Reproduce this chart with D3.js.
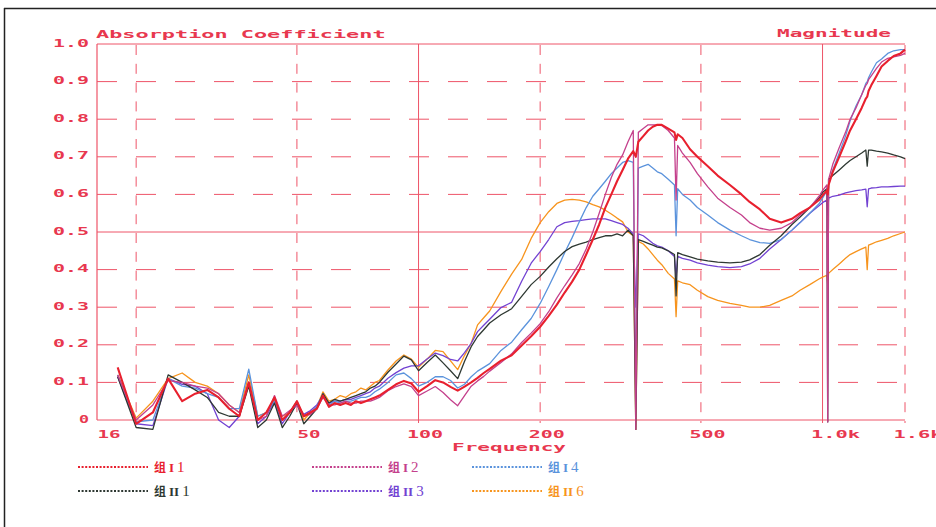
<!DOCTYPE html>
<html><head><meta charset="utf-8">
<script src="https://cdn.jsdelivr.net/npm/d3@7"></script>
<style>body{margin:0;background:#fff;overflow:hidden}</style>
</head><body><svg id="c" width="936" height="527"></svg>
<script>
// ---------------- data ----------------
const freqs = [18,20,22,24,26,28,30,32,34,36,38,40,42,44,46,48,50,52,54,56,58,60,62,64,66,68,70,72,74,76,78,80,
84,88,92,96,100,105,110,115,120,125,130,135,140,145,150,160,170,180,190,200,
210,220,230,240,250,260,270,280,290,300,310,320,330,340,345,350,360,370,380,390,400,
415,430,434,438,450,470,490,520,550,590,630,660,700,740,790,840,880,930,980,1000,
1025,1030,1035,1060,1100,1140,1170,1210,1250,1280,1290,1300,1320,1360,1400,1450,1500,1560,1600];

const serI1 = [.14,-.01,.02,.11,.05,.07,.08,.06,.03,.01,.10,.00,.02,.06,.00,.02,.05,.01,.02,.03,.065,.035,.045,.04,.045,.04,.05,.045,.05,.055,.06,.065,
.08,.095,.104,.097,.075,.09,.106,.10,.088,.078,.089,.10,.112,.125,.136,.158,.172,.198,.223,.248,
.277,.307,.339,.368,.40,.44,.48,.52,.565,.60,.635,.665,.695,.715,.70,.74,.755,.77,.78,.785,.785,
.775,.765,.745,.76,.75,.72,.70,.675,.65,.625,.60,.58,.56,.535,.525,.535,.55,.565,.585,.597,
.61,.60,.625,.66,.70,.74,.77,.80,.83,.855,.86,.875,.89,.915,.94,.955,.968,.975,.985];

const serI2 = [.12,.00,.04,.105,.10,.09,.085,.07,.04,.02,.10,.00,.01,.065,.01,.025,.04,.01,.015,.03,.06,.04,.04,.045,.05,.045,.045,.05,.05,.05,.055,.06,
.078,.089,.096,.089,.065,.077,.089,.073,.054,.038,.065,.09,.104,.116,.13,.153,.176,.206,.231,.256,
.288,.325,.357,.386,.416,.455,.50,.55,.60,.645,.68,.705,.74,.77,-.025,.765,.775,.785,.785,.785,.783,
.77,.75,.585,.73,.71,.685,.655,.62,.59,.565,.545,.525,.51,.505,.51,.525,.545,.565,.595,.61,
.625,-.005,.64,.68,.725,.765,.80,.83,.865,.89,.895,.905,.915,.935,.952,.962,.966,.97,.975];

const serI4 = [.12,-.005,.00,.11,.09,.085,.07,.06,.03,.03,.135,.01,.02,.05,.00,.02,.05,.01,.02,.035,.07,.04,.05,.045,.05,.05,.055,.06,.06,.065,.075,.082,
.10,.12,.125,.11,.09,.10,.115,.115,.105,.085,.095,.115,.13,.14,.15,.185,.207,.24,.27,.31,
.355,.40,.445,.485,.527,.565,.595,.615,.635,.655,.67,.685,.69,.685,.05,.67,.675,.68,.67,.66,.655,
.64,.625,.49,.615,.60,.585,.565,.545,.525,.505,.49,.48,.472,.47,.48,.505,.525,.55,.575,.59,
.61,.58,.625,.665,.71,.755,.795,.835,.865,.895,.90,.91,.925,.95,.96,.975,.982,.985,.985];

const serII1 = [.115,-.02,-.025,.12,.10,.08,.06,.02,.01,.01,.09,-.02,.00,.045,-.02,.01,.045,-.01,.01,.03,.07,.045,.055,.05,.055,.06,.065,.07,.075,.085,.09,.10,
.127,.149,.17,.16,.131,.153,.173,.152,.131,.11,.156,.195,.222,.24,.258,.28,.296,.329,.36,.382,
.407,.429,.448,.461,.468,.473,.48,.485,.49,.49,.495,.49,.505,.49,-.025,.48,.475,.47,.465,.46,.458,
.45,.44,.33,.445,.44,.434,.428,.423,.42,.418,.42,.426,.44,.465,.49,.52,.54,.565,.59,.605,
.615,-.005,.64,.65,.665,.68,.69,.70,.71,.718,.675,.718,.718,.715,.713,.71,.705,.70,.695];

const serII3 = [.115,-.01,-.015,.11,.095,.09,.07,.00,-.02,.01,.10,-.01,.01,.05,-.01,.02,.04,.015,.025,.04,.065,.045,.05,.05,.055,.055,.06,.065,.07,.075,.085,.09,
.111,.126,.138,.144,.144,.162,.178,.171,.161,.157,.179,.204,.235,.252,.268,.299,.313,.369,.417,.448,
.48,.514,.525,.528,.53,.533,.535,.535,.535,.53,.525,.52,.51,.495,.30,.495,.49,.48,.47,.463,.46,
.45,.435,.38,.435,.43,.425,.418,.412,.408,.405,.408,.415,.43,.455,.48,.505,.525,.55,.57,.578,
.585,.545,.59,.595,.598,.604,.607,.61,.612,.614,.567,.615,.617,.618,.62,.62,.621,.622,.622];

const serII6 = [.12,.005,.05,.11,.125,.10,.09,.07,.04,.02,.12,.01,.02,.055,.01,.02,.05,.00,.02,.035,.075,.05,.055,.065,.06,.07,.075,.085,.08,.09,.10,.105,
.133,.157,.173,.162,.14,.162,.185,.182,.157,.134,.172,.204,.253,.272,.29,.342,.388,.427,.483,.525,
.554,.576,.585,.587,.585,.58,.573,.567,.558,.548,.537,.527,.50,.49,-.025,.475,.468,.455,.44,.425,.413,
.39,.375,.275,.37,.365,.36,.345,.328,.318,.31,.305,.30,.30,.305,.318,.33,.345,.36,.375,.38,
.385,.36,.39,.40,.415,.43,.44,.448,.455,.46,.40,.465,.468,.474,.478,.483,.49,.496,.50];

const seriesNames = ["I1","I2","I4","II1","II3","II6"];
const seriesValues = [serI1, serI2, serI4, serII1, serII3, serII6];
const seriesColors = ["#e8202e","#c4408c","#5b93dc","#2e3832","#7242d2","#f7941d"];

const yTicks = [0,0.1,0.2,0.3,0.4,0.5,0.6,0.7,0.8,0.9,1.0];
const yTickLabels = ["0","0.1","0.2","0.3","0.4","0.5","0.6","0.7","0.8","0.9","1.0"];
const xGrid = [20,50,100,200,500,1000,1600];
const xTicks = [16,50,100,200,500,1000,1600];
const xTickLabels = ["16","50","100","200","500","1.0k","1.6k"];
const legendPrefix = "组";
const legendRoman = ["I","I","I","II","II","II"];
const legendDigit = ["1","2","4","1","3","6"];
const titleLeft = "Absorption Coefficient";
const titleRight = "Magnitude";
const xTitle = "Frequency";

// ---------------- drawing ----------------
const svg = d3.select("#c");
const RED = "#e8384f";
const GRID = "#ee5468";
const x = d3.scaleLog().domain([16,1600]).range([97,905]);
const y = d3.scaleLinear().domain([0,1]).range([420,44]);

// outer black frame (left & top)
svg.append("line").attr("x1",4.5).attr("x2",4.5).attr("y1",8).attr("y2",527).attr("stroke","#222").attr("stroke-width",1.5);
svg.append("line").attr("x1",4).attr("x2",936).attr("y1",8.5).attr("y2",8.5).attr("stroke","#222").attr("stroke-width",1.5);

const grid = svg.append("g");
grid.selectAll("line.h").data(yTicks).join("line")
  .attr("x1",x(16)).attr("x2",x(1600))
  .attr("y1",d=>y(d)).attr("y2",d=>y(d))
  .attr("stroke",GRID).attr("stroke-width",1)
  .attr("stroke-dasharray",d=>(d===0||d===0.5||d===1)?null:"20,19");
grid.selectAll("line.v").data(xGrid).join("line")
  .attr("x1",d=>x(d)).attr("x2",d=>x(d))
  .attr("y1",y(0)+3).attr("y2",y(1))
  .attr("stroke",GRID).attr("stroke-width",1)
  .attr("stroke-dasharray",d=>(d===100||d===1000)?null:"10,8.8")
  .attr("stroke-dashoffset",8);
grid.append("line").attr("x1",x(16)).attr("x2",x(16)).attr("y1",y(0)).attr("y2",y(1)).attr("stroke",GRID).attr("stroke-width",1.2);

function ptext(g, str, px, py, anchor, pitch){
  const w = str.length*(pitch||13) - 3;
  return g.append("text").attr("x",px).attr("y",py)
    .attr("text-anchor",anchor)
    .attr("font-family","DejaVu Sans Mono, monospace").attr("font-weight","bold")
    .attr("font-size",11).attr("fill",RED)
    .attr("textLength",w).attr("lengthAdjust","spacingAndGlyphs").text(str);
}

const yAx = svg.append("g").attr("transform","translate(89,2)")
  .call(d3.axisLeft(y).tickValues(yTicks).tickSize(0).tickPadding(0).tickFormat((d,i)=>yTickLabels[i]));
yAx.select(".domain").remove();
yAx.selectAll("text").each(function(d,i){
  const s = yTickLabels[i];
  d3.select(this).attr("text-anchor","end").attr("dy",0).attr("x",0)
    .attr("font-family","DejaVu Sans Mono, monospace").attr("font-weight","bold")
    .attr("font-size",11).attr("fill",RED)
    .attr("textLength",s.length*13-3).attr("lengthAdjust","spacingAndGlyphs");
});

const xAx = svg.append("g").attr("transform","translate(0,438)")
  .call(d3.axisBottom(x).tickValues(xTicks).tickSize(0).tickPadding(0).tickFormat((d,i)=>xTickLabels[i]));
xAx.select(".domain").remove();
xAx.selectAll("text").each(function(d,i){
  const s = xTickLabels[i];
  d3.select(this).attr("text-anchor","start").attr("dy",0).attr("y",0)
    .attr("x", s.length<=2 ? 0 : -12)
    .attr("font-family","DejaVu Sans Mono, monospace").attr("font-weight","bold")
    .attr("font-size",11).attr("fill",RED)
    .attr("textLength",s.length*13-3).attr("lengthAdjust","spacingAndGlyphs");
});

ptext(svg, titleLeft, 96, 38, "start", 13.3);
ptext(svg, titleRight, 891, 37, "end", 13);
ptext(svg, xTitle, 452, 451, "start", 13);

const line = d3.line().x(d=>x(d[0])).y(d=>y(d[1]));
const drawOrder = [5,4,2,3,1,0];
const curves = svg.append("g");
drawOrder.forEach(k=>{
  const pts = freqs.map((f,i)=>[f, seriesValues[k][i]]);
  curves.append("path").datum(pts)
    .attr("d",line).attr("fill","none")
    .attr("stroke",seriesColors[k])
    .attr("stroke-width",k===0?2.1:1.3)
    .attr("stroke-linejoin","round");
});

const legCols = [78,312,472];
const legRows = [467,491];
const legOrder = [[0,1,2],[3,4,5]];
const leg = svg.append("g");
legOrder.forEach((row,ri)=>{
  row.forEach((k,ci)=>{
    const lx = legCols[ci], ly = legRows[ri];
    leg.append("line").attr("x1",lx).attr("x2",lx+70).attr("y1",ly).attr("y2",ly)
      .attr("stroke",seriesColors[k]).attr("stroke-width",1.8).attr("stroke-dasharray","2,1.6");
    const t = leg.append("text").attr("x",lx+76).attr("y",ly+5).attr("fill",seriesColors[k]);
    t.append("tspan").attr("font-family","Noto Sans CJK SC").attr("font-weight","bold").attr("font-size",12).text(legendPrefix);
    t.append("tspan").attr("dx",3).attr("font-family","Liberation Serif").attr("font-weight","bold").attr("font-size",13).text(legendRoman[k]);
    t.append("tspan").attr("dx",3).attr("font-family","Liberation Serif").attr("font-size",15).text(legendDigit[k]);
  });
});
</script>
</body></html>
